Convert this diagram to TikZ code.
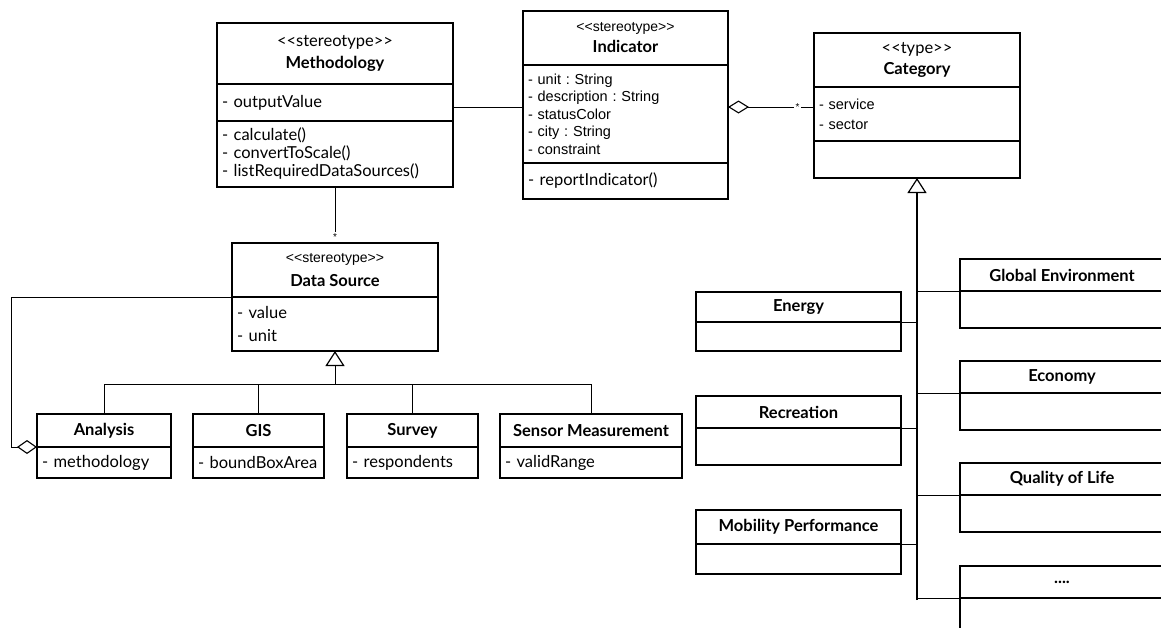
\documentclass[tikz,border=0pt]{standalone}
\usepackage{fontspec}
\setmainfont{Lato}
\newfontfamily\hv{Liberation Sans}
\usetikzlibrary{arrows.meta, positioning}
\frenchspacing

% stereotype text, kerned so << and >> stay as they are
\newcommand{\st}[1]{<\kern0pt<#1>\kern0pt>}

\tikzset{
  comp/.style={draw, line width=1.1pt, inner xsep=5pt, inner ysep=0pt, outer sep=0pt},
  title/.style={comp, align=center, font=\fontsize{16.5}{22}\selectfont},
  attrs/.style={comp, align=left, font=\fontsize{16.5}{18}\selectfont},
  hvattrs/.style={font=\hv\fontsize{14.5}{17.5}\selectfont},
  link/.style={line width=1pt},
  gen/.style={line width=1pt, -{Triangle[open, length=15pt, width=19pt, line width=1.2pt]}},
  agg/.style={line width=1pt, {Diamond[open, length=21pt, width=13pt, line width=1.1pt]}-},
  star/.style={fill=white, inner sep=1.5pt, font=\hv\fontsize{10}{10}\selectfont},
}

\begin{document}
\begin{tikzpicture}[x=1pt, y=-1pt]
  \clip (0,0) rectangle (1161,627);

  % Methodology
  \node[title, minimum width=236pt, minimum height=61pt, anchor=north west] (methtitle) at (217,23) {\st{stereotype}\\\textbf{Methodology}};
  \node[attrs, text width=226pt, minimum height=37pt, below=0pt of methtitle] (methattr) {- outputValue};
  \node[attrs, text width=226pt, minimum height=66pt, below=0pt of methattr] (methops) {- calculate()\\- convertToScale()\\- listRequiredDataSources()};

  % Indicator
  \node[title, font=\fontsize{16.5}{21}\selectfont, minimum width=205pt, minimum height=54pt, anchor=north west] (indtitle) at (523,11) {{\hv\fontsize{14}{21}\selectfont\st{stereotype}}\\\textbf{Indicator}};
  \node[attrs, hvattrs, text width=195pt, minimum height=98pt, below=0pt of indtitle] (indattr) {- unit : String\\- description : String\\- statusColor\\- city : String\\- constraint};
  \node[attrs, text width=195pt, minimum height=36pt, below=0pt of indattr] (indops) {- reportIndicator()};

  % Category
  \node[title, font=\fontsize{16.5}{21}\selectfont, minimum width=206pt, minimum height=54pt, anchor=north west] (cattitle) at (814,33) {\st{type}\\\textbf{Category}};
  \node[attrs, hvattrs, font=\hv\fontsize{14.5}{20}\selectfont, text width=196pt, minimum height=54pt, below=0pt of cattitle] (catattr) {- service\\- sector};
  \node[attrs, text width=196pt, minimum height=37pt, below=0pt of catattr] (catops) {};

  % Data Source
  \node[title, font=\fontsize{16.5}{24}\selectfont, minimum width=206pt, minimum height=54pt, anchor=north west] (dstitle) at (232,243) {{\hv\fontsize{14}{24}\selectfont\st{stereotype}}\\\textbf{Data Source}};
  \node[attrs, font=\fontsize{16.5}{23}\selectfont, text width=196pt, minimum height=54pt, below=0pt of dstitle] (dsattr) {- value\\- unit};

  % kinds of data source
  \node[title, minimum width=134pt, minimum height=33pt, anchor=north west] (anatitle) at (37,414) {\textbf{Analysis}};
  \node[attrs, text width=124pt, minimum height=31pt, below=0pt of anatitle] (anaattr) {- methodology};
  \node[title, minimum width=131pt, minimum height=33pt, anchor=north west] (gistitle) at (193,414) {\textbf{GIS}};
  \node[attrs, text width=121pt, minimum height=31pt, below=0pt of gistitle] (gisattr) {- boundBoxArea};
  \node[title, minimum width=131pt, minimum height=33pt, anchor=north west] (survtitle) at (347,414) {\textbf{Survey}};
  \node[attrs, text width=121pt, minimum height=31pt, below=0pt of survtitle] (survattr) {- respondents};
  \node[title, minimum width=182pt, minimum height=33pt, anchor=north west] (sentitle) at (500,414) {\textbf{Sensor Measurement}};
  \node[attrs, text width=172pt, minimum height=31pt, below=0pt of sentitle] (senattr) {- validRange};

  % categories, left column
  \node[title, minimum width=205pt, minimum height=30pt, anchor=north west] (enertitle) at (696,292) {\textbf{Energy}};
  \node[attrs, text width=195pt, minimum height=29pt, below=0pt of enertitle] (enerbody) {};
  \node[title, minimum width=205pt, minimum height=32pt, anchor=north west] (recrtitle) at (696,396) {\textbf{Recreation}};
  \node[attrs, text width=195pt, minimum height=37pt, below=0pt of recrtitle] (recrbody) {};
  \node[title, minimum width=205pt, minimum height=34pt, anchor=north west] (mobtitle) at (696,510) {\textbf{Mobility Performance}};
  \node[attrs, text width=195pt, minimum height=30pt, below=0pt of mobtitle] (mobbody) {};

  % categories, right column
  \node[title, minimum width=204pt, minimum height=32pt, anchor=north west] (globtitle) at (960,259) {\textbf{Global Environment}};
  \node[attrs, text width=194pt, minimum height=37pt, below=0pt of globtitle] (globbody) {};
  \node[title, minimum width=204pt, minimum height=32pt, anchor=north west] (econtitle) at (960,361) {\textbf{Economy}};
  \node[attrs, text width=194pt, minimum height=37pt, below=0pt of econtitle] (econbody) {};
  \node[title, minimum width=204pt, minimum height=32pt, anchor=north west] (qoltitle) at (960,463) {\textbf{Quality of Life}};
  \node[attrs, text width=194pt, minimum height=37pt, below=0pt of qoltitle] (qolbody) {};
  \node[title, minimum width=204pt, minimum height=32pt, anchor=north west] (moretitle) at (960,566) {\textbf{....}};
  \node[attrs, text width=194pt, minimum height=37pt, below=0pt of moretitle] (morebody) {};

  % associations
  \draw[link] ([yshift=-4.5pt]methattr.east) -- ([yshift=-4.5pt]methattr.east -| indattr.west);
  \draw[agg] ([yshift=7pt]indattr.east) -- ([yshift=7pt]indattr.east -| catattr.west) node[star, pos=0.81] (catmult) {*};
  \draw[link] (methops.south) -- (dstitle.north) node[star, pos=0.89] (dsmult) {*};

  % aggregation of analysis
  \coordinate (aggcorner) at (11,297);
  \draw[link, -{Diamond[open, length=20pt, width=14pt, line width=1.1pt]}] (dstitle.south west) -- (aggcorner) |- (anaattr.north west);

  % generalisation of data sources
  \coordinate (dsbus) at (335,384);
  \draw[gen] (dsbus) -- (dsattr.south);
  \foreach \c in {anatitle, gistitle, survtitle, sentitle}
    \draw[link] (\c.north) |- (dsbus);

  % generalisation of categories
  \coordinate (catbus) at (917,600);
  \draw[gen, line width=1.6pt] (catbus) -- (catops.south);
  \foreach \c in {globtitle, econtitle, qoltitle, moretitle}
    \draw[link] (\c.south west) -- (\c.south west -| catbus);
  \foreach \c in {enertitle, recrtitle, mobtitle}
    \draw[link] (\c.south east) -- (\c.south east -| catbus);
\end{tikzpicture}
\end{document}
